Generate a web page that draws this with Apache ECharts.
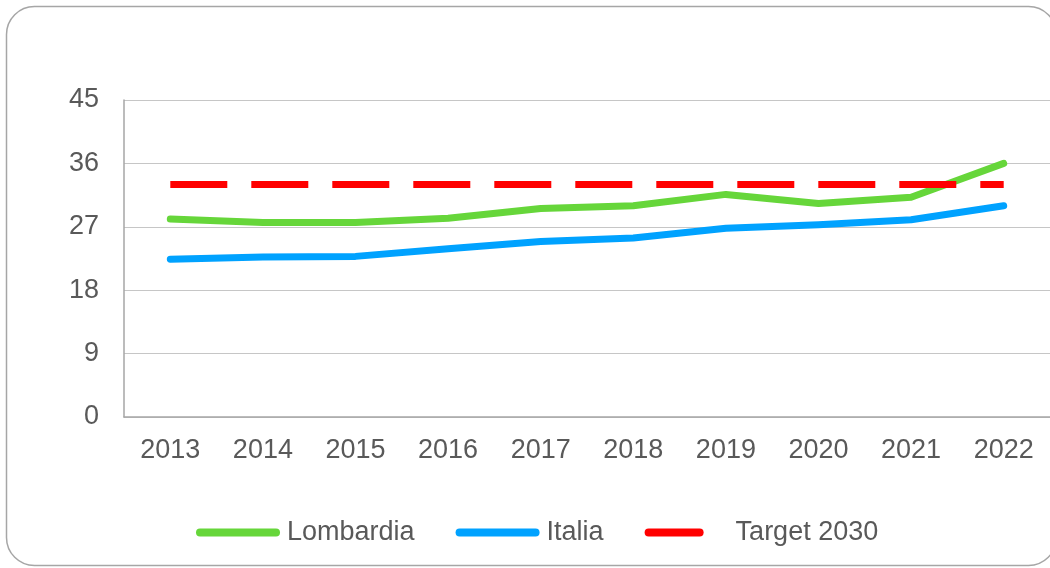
<!DOCTYPE html>
<html>
<head>
<meta charset="utf-8">
<script src="https://cdn.jsdelivr.net/npm/echarts@6/dist/echarts.min.js"></script>
<style>
  html, body { margin: 0; padding: 0; background: #fff; overflow: hidden; }
  #chart { width: 1050px; height: 568px; }
</style>
</head>
<body>
<div id="chart"></div>
<script>
// dati
const years = ['2013', '2014', '2015', '2016', '2017', '2018', '2019', '2020', '2021', '2022']
const lombardia = [28.1, 27.6, 27.6, 28.2, 29.6, 30.0, 31.6, 30.3, 31.2, 36.0]
const italia = [22.4, 22.7, 22.8, 23.9, 24.9, 25.4, 26.8, 27.3, 28.0, 30.0]
const target2030 = [33, 33, 33, 33, 33, 33, 33, 33, 33, 33]
const yTicks = { min: 0, max: 45, interval: 9 }

const textColor = '#595959'
const font = 'Liberation Sans, Arial, sans-serif'
// icone della legenda: barra arrotondata, e barra corta per il target
const barIcon = 'path://M4,0 L80,0 A4,4 0 0 1 80,8 L4,8 A4,4 0 0 1 4,0 Z'
const shortIcon = 'path://M4,0 L55,0 A4,4 0 0 1 55,8 L4,8 A4,4 0 0 1 4,0 Z M84,8 L84,8'

const option = {
  backgroundColor: '#fff',
  animation: false,
  graphic: [
    {
      type: 'rect',
      z: -10,
      shape: { x: 6.5, y: 6.5, width: 1050, height: 559, r: 28 },
      style: { fill: 'none', stroke: '#a6a6a6', lineWidth: 1.5 },
    },
  ],
  grid: { left: 124, top: 100, bottom: 151, width: 930 },
  legend: {
    left: 191,
    top: 514,
    itemWidth: 84,
    itemHeight: 8,
    itemGap: 41,
    textStyle: { color: textColor, fontSize: 27, fontFamily: font, padding: [0, 0, 0, 2] },
    data: [
      { name: 'Lombardia', icon: barIcon },
      { name: 'Italia', icon: barIcon },
      { name: 'Target 2030', icon: shortIcon },
    ],
  },
  xAxis: {
    type: 'category',
    data: years,
    boundaryGap: true,
    axisLine: { lineStyle: { color: '#a6a6a6', width: 1.5 } },
    axisTick: { show: false },
    axisLabel: { color: textColor, fontSize: 27, fontFamily: font, margin: 20 },
  },
  yAxis: {
    type: 'value',
    min: yTicks.min,
    max: yTicks.max,
    interval: yTicks.interval,
    axisLine: { show: true, lineStyle: { color: '#a6a6a6', width: 1.5 } },
    axisTick: { show: false },
    splitLine: { lineStyle: { color: '#c6c6c6', width: 1.2 } },
    axisLabel: { color: textColor, fontSize: 27, fontFamily: font, margin: 25 },
  },
  series: [
    {
      name: 'Lombardia',
      type: 'line',
      data: lombardia,
      symbol: 'none',
      color: '#66d63a',
      lineStyle: { width: 7, cap: 'round', join: 'round' },
    },
    {
      name: 'Italia',
      type: 'line',
      data: italia,
      symbol: 'none',
      color: '#00a2ff',
      lineStyle: { width: 7, cap: 'round', join: 'round' },
    },
    {
      name: 'Target 2030',
      type: 'line',
      data: target2030,
      symbol: 'none',
      color: '#ff0000',
      lineStyle: { width: 7, type: [57, 24], cap: 'butt' },
    },
  ],
}

const chart = echarts.init(document.getElementById('chart'))
chart.setOption(option)
window.addEventListener('resize', () => chart.resize())
</script>
</body>
</html>
